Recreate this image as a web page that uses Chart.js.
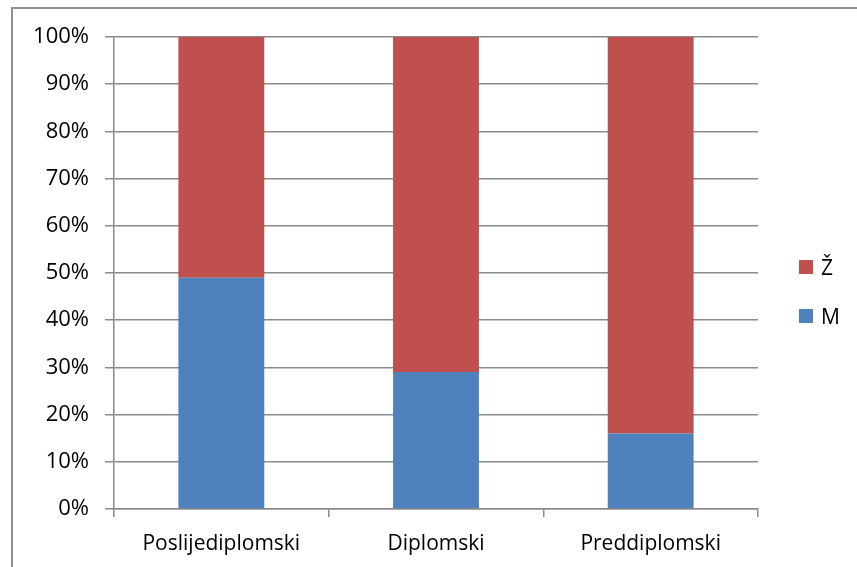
<!DOCTYPE html>
<html>
<head>
<meta charset="utf-8">
<script src="https://cdn.jsdelivr.net/npm/chart.js@4/dist/chart.umd.min.js"></script>
<style>
  html, body { margin: 0; padding: 0; background: #ffffff; }
  #wrap { position: relative; width: 857px; height: 567px; }
</style>
</head>
<body>
<div id="wrap"><canvas id="c" width="857" height="567"></canvas></div>
<script>
// Study levels on the category axis
const categories = ['Poslijediplomski', 'Diplomski', 'Preddiplomski'];
// Share of men and women per level, in percent
const shareM = [49, 29, 16];
const shareZ = [51, 71, 84];
const seriesNames = ['M', 'Ž'];
const seriesColors = ['#4F81BD', '#C0504D'];

const FONT = '"Open Sans", "Liberation Sans", sans-serif';
const GRID = '#8a8a8a';

// Frame around the chart (left and top edges visible)
const framePlugin = {
  id: 'frame',
  beforeDraw(chart) {
    const ctx = chart.ctx;
    ctx.save();
    ctx.fillStyle = '#ffffff';
    ctx.fillRect(0, 0, chart.width, chart.height);
    ctx.strokeStyle = '#909090';
    ctx.lineWidth = 2;
    ctx.beginPath();
    ctx.moveTo(12, chart.height);
    ctx.lineTo(12, 8);
    ctx.lineTo(chart.width, 8);
    ctx.stroke();
    ctx.restore();
  }
};

// Vertical legend on the right, last series on top
const sideLegend = {
  id: 'sideLegend',
  afterDraw(chart) {
    const ctx = chart.ctx;
    const ds = chart.data.datasets.slice().reverse();
    const x = 799, box = 14, gap = 49, top = 260;
    ctx.save();
    ctx.font = '21px ' + FONT;
    ctx.textBaseline = 'alphabetic';
    ctx.textAlign = 'left';
    ds.forEach((d, i) => {
      const y = top + i * gap;
      ctx.fillStyle = d.backgroundColor;
      ctx.fillRect(x, y, box, box);
      ctx.fillStyle = '#000000';
      ctx.fillText(d.label, x + 22, y + box + 1);
    });
    ctx.restore();
  }
};

new Chart(document.getElementById('c'), {
  type: 'bar',
  data: {
    labels: categories,
    datasets: [
      { label: seriesNames[0], data: shareM, backgroundColor: seriesColors[0] },
      { label: seriesNames[1], data: shareZ, backgroundColor: seriesColors[1] }
    ]
  },
  options: {
    responsive: false,
    animation: false,
    devicePixelRatio: 1,
    layout: { padding: { left: 20, top: 37, right: 99, bottom: 0 } },
    datasets: { bar: { categoryPercentage: 1.0, barPercentage: 0.4, borderWidth: 0 } },
    plugins: {
      legend: { display: false },
      tooltip: { enabled: false }
    },
    scales: {
      x: {
        stacked: true,
        offset: true,
        grid: {
          offset: true,
          drawOnChartArea: false,
          drawTicks: true,
          tickLength: 8,
          color: GRID,
          lineWidth: 1.5
        },
        border: { display: true, color: GRID, width: 1.5 },
        ticks: { color: '#000000', font: { family: FONT, size: 21 }, padding: 14, maxRotation: 0 },
        afterFit(scale) { scale.height = 58; }
      },
      y: {
        stacked: true,
        min: 0,
        max: 100,
        grid: {
          drawTicks: true,
          tickLength: 9,
          color: GRID,
          lineWidth: 1.5
        },
        border: { display: true, color: GRID, width: 1.5 },
        ticks: {
          stepSize: 10,
          padding: 16,
          color: '#000000',
          font: { family: FONT, size: 22 },
          callback: (v) => v + '%'
        },
        afterFit(scale) { scale.width = 94; }
      }
    }
  },
  plugins: [framePlugin, sideLegend]
});
</script>
</body>
</html>
